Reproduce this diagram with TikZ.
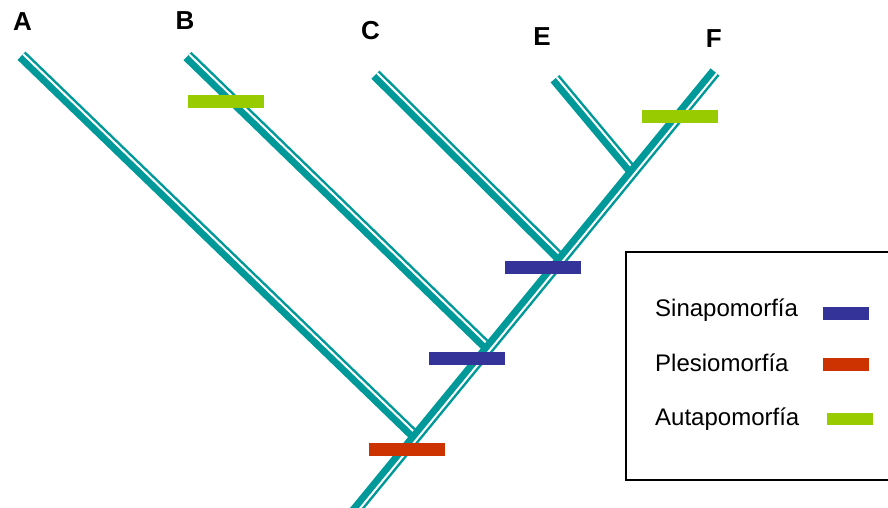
\documentclass[tikz,border=0pt]{standalone}
\usepackage{fontspec}
\setmainfont{Liberation Sans}
\usetikzlibrary{calc}
\definecolor{Teal}{HTML}{009999}
\definecolor{Lime}{HTML}{99CC00}
\definecolor{Navy}{HTML}{333399}
\definecolor{Rust}{HTML}{CC3300}
\newcommand{\drawbranch}[2]{%
  \draw[stem] (#1) -- (#2);
  \draw[gap] ($(#1)!2.25pt!90:(#2)$) -- ($(#2)!2.25pt!-90:(#1)$);
}

\begin{document}
\begin{tikzpicture}[x=1pt,y=-1pt,
  stem/.style={Teal,line width=11.5pt},
  gap/.style={white,line width=2pt},
  bar/.style={fill=#1,draw=none,inner sep=0pt,minimum width=76pt,minimum height=12.7pt},
  keybar/.style={fill=#1,draw=none,inner sep=0pt,minimum width=46pt,minimum height=12.8pt},
  taxon/.style={font=\bfseries\fontsize{26}{26}\selectfont,inner sep=0pt},
  key/.style={anchor=base west,font=\fontsize{24}{24}\selectfont,inner sep=0pt}]
  \useasboundingbox (0,0) rectangle (888,508);
  % tips, ends and trunk
  \coordinate (tA) at (21.5,55.7);
  \coordinate (eA) at (413,434);
  \coordinate (tB) at (187.5,56);
  \coordinate (eB) at (477,337);
  \coordinate (tC) at (375.5,74.7);
  \coordinate (eC) at (557.5,255.5);
  \coordinate (tE) at (555,78.7);
  \coordinate (eE) at (628,166);
  \coordinate (tF) at (715,72);
  \coordinate (root) at (351.7,515);
  \coordinate (jA) at (intersection of tA--eA and tF--root);
  \coordinate (jB) at (intersection of tB--eB and tF--root);
  \coordinate (jC) at (intersection of tC--eC and tF--root);
  \coordinate (jE) at (intersection of tE--eE and tF--root);
  % branches
  \drawbranch{tA}{jA}
  \drawbranch{tB}{jB}
  \drawbranch{tC}{jC}
  \drawbranch{tE}{jE}
  \drawbranch{tF}{root}
  % character marks
  \node[bar=Lime] (autB) at (226,101.3) {};
  \node[bar=Lime] (autF) at (680,116.3) {};
  \node[bar=Navy] (sinC) at (543,267.3) {};
  \node[bar=Navy] (sinB) at (467,358.3) {};
  \node[bar=Rust] (pleA) at (407,449.3) {};
  % taxa
  \node[taxon] (A) at (22.5,22) {A};
  \node[taxon] (B) at (185,20.5) {B};
  \node[taxon] (C) at (370.5,30.5) {C};
  \node[taxon] (E) at (542,36.3) {E};
  \node[taxon] (F) at (713.7,38.8) {F};
  % legend
  \draw[line width=2pt] (626,252) rectangle (892,480);
  \node[key] (kSin) at (655,316) {Sinapomorfía};
  \node[key] (kPle) at (655,371) {Plesiomorfía};
  \node[key] (kAut) at (655,425) {Autapomorfía};
  \node[keybar=Navy] (bSin) at (846,313.2) {};
  \node[keybar=Rust] (bPle) at (846,364.2) {};
  \node[keybar=Lime] (bAut) at (850,419) {};
\end{tikzpicture}
\end{document}
